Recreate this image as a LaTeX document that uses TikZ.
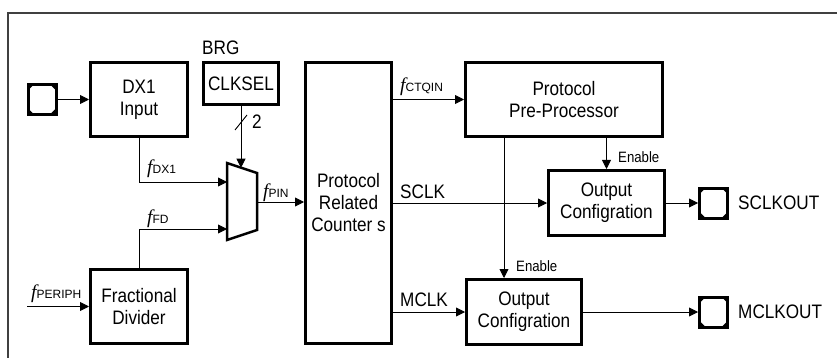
\documentclass[tikz,border=0pt]{standalone}
\usepackage{fontspec}
\setmainfont{Liberation Sans}[FakeStretch=0.88]
\newfontfamily\subfont{Liberation Sans}
\newfontfamily\serifit{Liberation Serif}
\usetikzlibrary{arrows.meta}
\newcommand{\fq}[1]{{\serifit\itshape\fontsize{19.5}{19.5}\selectfont f}{\subfont\fontsize{12}{12}\selectfont #1}}
\begin{document}
\begin{tikzpicture}[x=1pt,y=-1pt,
  box/.style={draw, line width=3pt, align=center, inner sep=0pt, font=\fontsize{19.5}{22}\selectfont},
  conn/.style={line width=0.9pt},
  arr/.style={conn, -{Triangle[length=9pt,width=9pt]}},
  lab/.style={inner sep=0pt, font=\fontsize{19.5}{19.5}\selectfont},
  small/.style={inner sep=0pt, font=\fontsize{15}{15}\selectfont},
  pad/.style={draw, line width=3pt, minimum width=28pt, minimum height=30pt, inner sep=0pt,
    path picture={
      \fill (path picture bounding box.north west) -- ++(6pt,0pt) -- ++(-6pt,-6pt) -- cycle;
      \fill (path picture bounding box.north east) -- ++(-6pt,0pt) -- ++(6pt,-6pt) -- cycle;
      \fill (path picture bounding box.south west) -- ++(6pt,0pt) -- ++(-6pt,6pt) -- cycle;
      \fill (path picture bounding box.south east) -- ++(-6pt,0pt) -- ++(6pt,6pt) -- cycle;}}]
\useasboundingbox (0,0) rectangle (837,358);
\draw[line width=1.3pt, black!75] (8,358) -- (8,13) -- (837,13);

% boxes
\node[box, minimum width=97pt, minimum height=74pt] (dx1) at (139,99.5) {DX1\\Input};
\node[box, minimum width=75pt, minimum height=42pt] (clksel) at (241,83.5) {CLKSEL};
\node[lab, anchor=base west] (brg) at (202,55) {BRG};
\node[box, minimum width=97pt, minimum height=74pt] (fd) at (139,306.5) {Fractional\\Divider};
\node[box, minimum width=86pt, minimum height=281pt] (cnt) at (348.5,203) {Protocol\\Related\\Counter s};
\node[box, minimum width=197pt, minimum height=74pt] (pre) at (564,99.5) {Protocol\\Pre-Processor};
\node[box, minimum width=116pt, minimum height=65pt] (oc1) at (606.5,203) {Output\\Configration};
\node[box, minimum width=115pt, minimum height=65pt] (oc2) at (524,312) {Output\\Configration};

% pads
\node[pad] (padin) at (42,99.5) {};
\node[pad] (pad1) at (713.5,203) {};
\node[pad] (pad2) at (713.5,312) {};
\node[lab, anchor=base west] (t1) at (738,209) {SCLKOUT};
\node[lab, anchor=base west] (t2) at (738,318) {MCLKOUT};

% mux
\coordinate (mtl) at (227,163);
\coordinate (mtr) at (257,173);
\coordinate (mbr) at (257,230);
\coordinate (mbl) at (227,240);
\draw[line width=2.5pt, line join=miter] (mtl) -- (mtr) -- (mbr) -- (mbl) -- cycle;
\coordinate (mxa) at (227,182);
\coordinate (mxb) at (227,229);
\coordinate (mxt) at (241,167.7);
\coordinate (mout) at (257,202);
\coordinate (pin) at (27,306.5);

% connectors
\draw[arr] (padin.east) -- (dx1.west);
\draw[arr] (clksel.south) -- (mxt);
\draw[conn] (235,130) -- (247,115);
\node[lab] (two) at (257,122) {2};
\draw[arr] (dx1.south) |- (mxa);
\node[anchor=base west, inner sep=0pt] (ldx1) at (147,174) {\fq{DX1}};
\draw[arr] (fd.north) |- (mxb);
\node[anchor=base west, inner sep=0pt] (lfd) at (147,223) {\fq{FD}};
\draw[arr] (pin) -- (pin -| fd.west);
\node[anchor=base west, inner sep=0pt] (lper) at (31,298) {\fq{PERIPH}};
\draw[arr] (mout) -- (mout -| cnt.west);
\node[anchor=base west, inner sep=0pt] (lpin) at (263,197) {\fq{PIN}};
\draw[arr] (pre.west -| cnt.east) -- (pre.west);
\node[anchor=base west, inner sep=0pt] (lctq) at (400,92) {\fq{CTQIN}};
\draw[arr] (oc1.west -| cnt.east) -- (oc1.west);
\node[lab, anchor=base west] (lsclk) at (400,198) {SCLK};
\draw[arr] (oc2.west -| cnt.east) -- (oc2.west);
\node[lab, anchor=base west] (lmclk) at (400,306) {MCLK};
\draw[arr] (pre.south -| oc1.north) -- (oc1.north);
\node[small, anchor=base west] (en1) at (618,163) {Enable};
\draw[arr] (504,0 |- pre.south) -- (504,0 |- oc2.north);
\node[small, anchor=base west] (en2) at (516,271) {Enable};
\draw[arr] (oc1.east) -- (pad1.west);
\draw[arr] (oc2.east) -- (pad2.west);
\end{tikzpicture}
\end{document}
